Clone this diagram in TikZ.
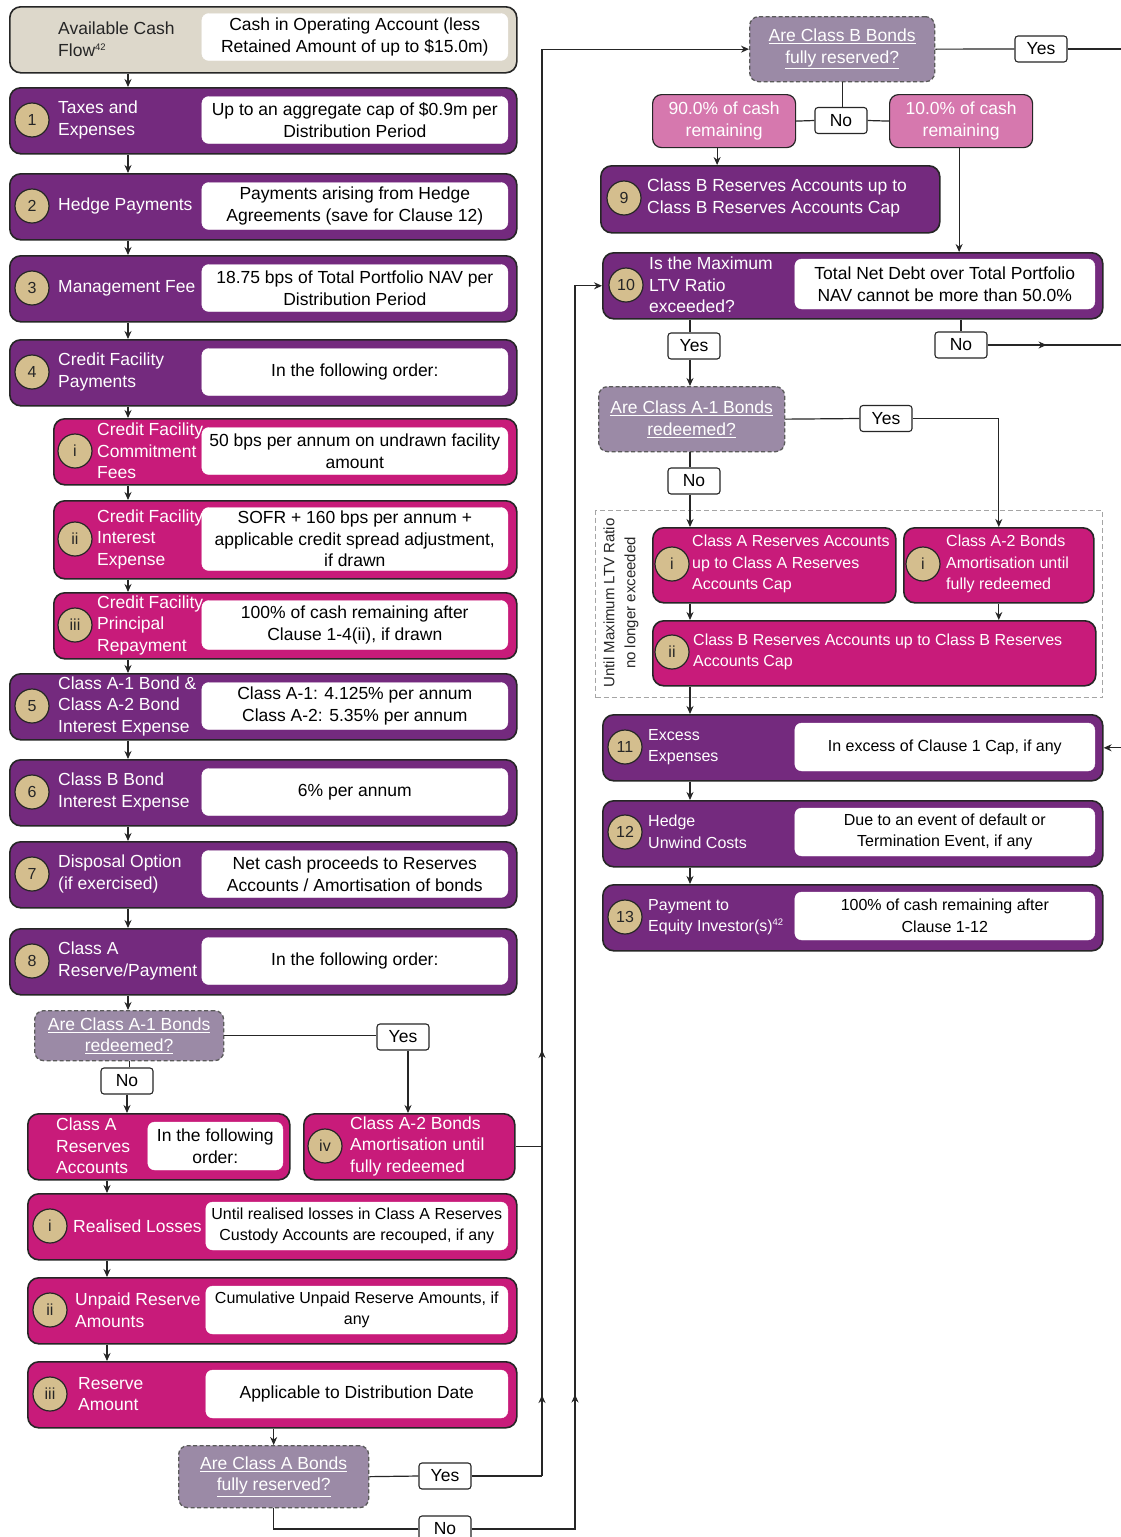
\documentclass[tikz,border=0pt]{standalone}
\usepackage{fontspec}
\setmainfont{Liberation Sans}
\usetikzlibrary{arrows.meta,decorations.markings}
\definecolor{cpur}{RGB}{116,42,126}
\definecolor{cmag}{RGB}{200,27,122}
\definecolor{cbei}{RGB}{221,216,203}
\definecolor{ctan}{RGB}{212,190,142}
\definecolor{cdec}{RGB}{155,138,166}
\definecolor{cpink}{RGB}{214,120,174}
\definecolor{cdark}{RGB}{38,38,38}
\definecolor{cgry}{RGB}{90,90,90}
\definecolor{cdash}{RGB}{165,165,165}
\newcommand\myfA{\fontsize{17.5pt}{21.5pt}\selectfont}
\newcommand\myfB{\fontsize{16pt}{21.5pt}\selectfont}
\newcommand\myfC{\fontsize{15pt}{21pt}\selectfont}
\newcommand\mysup[1]{\raisebox{6pt}{\fontsize{9.5pt}{10pt}\selectfont #1}}
\begin{document}
\begin{tikzpicture}[x=1pt,y=-1pt,
  base/.style={draw=cdark,line width=1.6pt,rounded corners=11pt,inner sep=0pt,anchor=north west},
  pbox/.style={base,fill=cpur},
  mbox/.style={base,fill=cmag},
  bbox/.style={base,fill=cbei},
  pkbox/.style={base,fill=cpink,line width=1.2pt,rounded corners=9pt,text=white,align=center,font=\myfA},
  wbox/.style={fill=white,draw=white,rounded corners=7pt,inner sep=0pt,align=center,text=black,anchor=east,font=\myfA},
  num/.style={circle,fill=ctan,draw=cdark,line width=1.2pt,minimum size=34pt,inner sep=0pt,text=cdark,font=\myfB},
  ttl/.style={anchor=west,align=left,text=white,inner sep=0pt,font=\myfA},
  dec/.style={draw=cgry,dash pattern=on 4pt off 2.5pt,line width=1.3pt,fill=cdec,rounded corners=9pt,text=white,align=center,anchor=north west,inner sep=0pt,font=\myfA},
  yn/.style={draw=cdark,fill=white,line width=1.1pt,rounded corners=3pt,minimum width=52pt,minimum height=26pt,inner sep=0pt,font=\myfA,text=black},
  ln/.style={line width=1.2pt,draw=cdark},
  arr/.style={ln,-{Stealth[length=8pt,width=7pt]}},
  marr/.style={postaction={decorate,decoration={markings,mark=at position #1 with {\arrow{Stealth[length=8pt,width=7pt]}}}}},
]
\useasboundingbox[fill=white] (0,0) rectangle (1121,1537);
\coordinate (lx) at (128,0);
\coordinate (bx) at (107,0);
\coordinate (vx) at (542,0);
\coordinate (vx2) at (575,0);
\coordinate (rx) at (690,0);
\coordinate (eR) at (1121,0);

% ===== left column =====
\node[bbox,minimum width=507,minimum height=66] (b0) at (9,6) {};
\node[wbox,minimum width=306,minimum height=47] (b0w) at (508,37) {Cash in Operating Account (less\\Retained Amount of up to \$15.0m)};
\node[ttl,text=cdark] (b0t) at (58,39) {Available Cash\\Flow\mysup{42}};

\node[pbox,minimum width=507,minimum height=66] (b1) at (9,87) {};
\node[wbox,minimum width=306,minimum height=47] (b1w) at (508,120) {Up to an aggregate cap of \$0.9m per\\Distribution Period};
\node[num] (b1n) at (32,120) {1};
\node[ttl] (b1t) at (58,120) {Taxes and\\Expenses};

\node[pbox,minimum width=507,minimum height=66] (b2) at (9,173) {};
\node[wbox,minimum width=306,minimum height=47] (b2w) at (508,206) {Payments arising from Hedge\\Agreements (save for Clause 12)};
\node[num] (b2n) at (32,206) {2};
\node[ttl] (b2t) at (58,206) {Hedge Payments};

\node[pbox,minimum width=507,minimum height=66] (b3) at (9,255) {};
\node[wbox,minimum width=306,minimum height=47] (b3w) at (508,288) {18.75 bps of Total Portfolio NAV per\\Distribution Period};
\node[num] (b3n) at (32,288) {3};
\node[ttl] (b3t) at (58,288) {Management Fee};

\node[pbox,minimum width=507,minimum height=66] (b4) at (9,339) {};
\node[wbox,minimum width=306,minimum height=47] (b4w) at (508,372) {In the following order:};
\node[num] (b4n) at (32,372) {4};
\node[ttl] (b4t) at (58,372) {Credit Facility\\Payments};

\node[mbox,minimum width=463,minimum height=66] (bi) at (53,418) {};
\node[wbox,minimum width=306,minimum height=47] (biw) at (508,451) {50 bps per annum on undrawn facility\\amount};
\node[num] (bin) at (75,451) {i};
\node[ttl] (bit) at (97,451) {Credit Facility\\Commitment\\Fees};

\node[mbox,minimum width=463,minimum height=78] (bii) at (53,500) {};
\node[wbox,minimum width=306,minimum height=63] (biiw) at (508,539) {SOFR + 160 bps per annum +\\applicable credit spread adjustment,\\if drawn};
\node[num] (biin) at (75,539) {ii};
\node[ttl] (biit) at (97,539) {Credit Facility\\Interest\\Expense};

\node[mbox,minimum width=463,minimum height=66] (biii) at (53,592) {};
\node[wbox,minimum width=306,minimum height=49] (biiiw) at (508,625) {100\% of cash remaining after\\Clause 1-4(ii), if drawn};
\node[num] (biiin) at (75,625) {iii};
\node[ttl] (biiit) at (97,625) {Credit Facility\\Principal\\Repayment};

\node[pbox,minimum width=507,minimum height=66] (b5) at (9,673) {};
\node[wbox,minimum width=306,minimum height=47] (b5w) at (508,706) {Class A-1: 4.125\% per annum\\Class A-2: 5.35\% per annum};
\node[num] (b5n) at (32,706) {5};
\node[ttl] (b5t) at (58,706) {Class A-1 Bond \&\\Class A-2 Bond\\Interest Expense};

\node[pbox,minimum width=507,minimum height=66] (b6) at (9,759) {};
\node[wbox,minimum width=306,minimum height=47] (b6w) at (508,792) {6\% per annum};
\node[num] (b6n) at (32,792) {6};
\node[ttl] (b6t) at (58,792) {Class B Bond\\Interest Expense};

\node[pbox,minimum width=507,minimum height=66] (b7) at (9,841) {};
\node[wbox,minimum width=306,minimum height=47] (b7w) at (508,874) {Net cash proceeds to Reserves\\Accounts / Amortisation of bonds};
\node[num] (b7n) at (32,874) {7};
\node[ttl] (b7t) at (58,874) {Disposal Option\\(if exercised)};

\node[pbox,minimum width=507,minimum height=66] (b8) at (9,928) {};
\node[wbox,minimum width=306,minimum height=47] (b8w) at (508,961) {In the following order:};
\node[num] (b8n) at (32,961) {8};
\node[ttl] (b8t) at (58,961) {Class A\\Reserve/Payment};

\foreach \a/\b in {b0/b1,b1/b2,b2/b3,b3/b4,b4/bi,bi/bii,bii/biii,biii/b5,b5/b6,b6/b7,b7/b8}
  \draw[arr] (lx |- \a.south) -- (lx |- \b.north);

% ===== bottom left =====
\node[dec,minimum width=189,minimum height=50] (dA1) at (34,1010) {\underline{Are Class A-1 Bonds}\\\underline{redeemed?}};
\node[yn] (nA1) at (127,1081) {No};
\node[yn] (yA1) at (403,1037) {Yes};

\node[mbox,minimum width=262,minimum height=66] (bAr) at (27,1113) {};
\node[wbox,minimum width=135,minimum height=48] (bArw) at (283,1146) {In the following\\order:};
\node[ttl] (bArt) at (56,1146) {Class A\\Reserves\\Accounts};

\node[mbox,minimum width=211,minimum height=66] (bA2) at (303,1113) {};
\node[num] (bA2n) at (325,1146) {iv};
\node[ttl] (bA2t) at (350,1146) {Class A-2 Bonds\\Amortisation until\\fully redeemed};

\node[mbox,minimum width=489,minimum height=66] (bRL) at (27,1193) {};
\node[wbox,minimum width=302,minimum height=48,font=\myfB] (bRLw) at (508,1226) {Until realised losses in Class A Reserves\\Custody Accounts are recouped, if any};
\node[num] (bRLn) at (50,1226) {i};
\node[ttl] (bRLt) at (73,1226) {Realised Losses};

\node[mbox,minimum width=489,minimum height=66] (bUR) at (27,1277) {};
\node[wbox,minimum width=302,minimum height=48,font=\myfB] (bURw) at (508,1310) {Cumulative Unpaid Reserve Amounts, if\\any};
\node[num] (bURn) at (50,1310) {ii};
\node[ttl] (bURt) at (75,1310) {Unpaid Reserve\\Amounts};

\node[mbox,minimum width=489,minimum height=66] (bRA) at (27,1361) {};
\node[wbox,minimum width=302,minimum height=48] (bRAw) at (508,1394) {Applicable to Distribution Date};
\node[num] (bRAn) at (50,1394) {iii};
\node[ttl] (bRAt) at (78,1394) {Reserve\\Amount};

\node[dec,minimum width=190,minimum height=62] (dAR) at (178,1445) {\underline{Are Class A Bonds}\\\underline{fully reserved?}};
\node[yn] (yAR) at (445,1476) {Yes};
\node[yn] (nAR) at (445,1529) {No};

\draw[arr] (lx |- b8.south) -- (lx |- dA1.north);
\draw[ln] (dA1.south) -- (dA1.south |- nA1.north);
\draw[arr] (nA1.south) -- (nA1.south |- bAr.north);
\draw[ln] (dA1.east) -- (dA1.east -| yA1.west);
\draw[arr] ([xshift=5pt]yA1.south) -- ([xshift=5pt]yA1.south |- bA2.north);
\draw[arr] (bx |- bAr.south) -- (bx |- bRL.north);
\draw[arr] (bx |- bRL.south) -- (bx |- bUR.north);
\draw[arr] (bx |- bUR.south) -- (bx |- bRA.north);
\draw[arr] (dAR.north |- bRA.south) -- (dAR.north);
\draw[ln] (dAR.east) -- (yAR.west);
\draw[ln] (yAR.east) -- (yAR.east -| vx);
\draw[ln] (bA2.east) -- (bA2.east -| vx);
\draw[ln] (dAR.south) -- (dAR.south |- nAR.west) -- (nAR.west);

% ===== right column =====
\node[dec,minimum width=185,minimum height=65] (dB) at (749,16) {\underline{Are Class B Bonds}\\\underline{fully reserved?}};
\node[yn] (yB) at (1041,49) {Yes};
\node[pkbox,minimum width=143,minimum height=53] (p90) at (652,94) {90.0\% of cash\\remaining};
\node[pkbox,minimum width=143,minimum height=53] (p10) at (889,94) {10.0\% of cash\\remaining};
\node[yn] (nB) at (841,120.5) {No};

\node[pbox,minimum width=339,minimum height=67] (b9) at (600,165) {};
\node[num] (b9n) at (624,198) {9};
\node[ttl] (b9t) at (647,198) {Class B Reserves Accounts up to\\Class B Reserves Accounts Cap};

\node[pbox,minimum width=500,minimum height=66] (b10) at (602,252) {};
\node[wbox,minimum width=300,minimum height=50] (b10w) at (1095,284) {Total Net Debt over Total Portfolio\\NAV cannot be more than 50.0\%};
\node[num] (b10n) at (626,285) {10};
\node[ttl] (b10t) at (649,285) {Is the Maximum\\LTV Ratio\\exceeded?};

\node[yn] (yL) at (694,346) {Yes};
\node[yn] (nL) at (961,345) {No};

\node[dec,minimum width=186,minimum height=65] (dA1r) at (598,386) {\underline{Are Class A-1 Bonds}\\\underline{redeemed?}};
\node[yn] (yR) at (886,418.5) {Yes};
\node[yn] (nR) at (694,481) {No};

\node[draw=cdash,dash pattern=on 5pt off 3pt,line width=1.2pt,minimum width=507,minimum height=187,anchor=north west,inner sep=0pt] (reg) at (595,510) {};
\node[rotate=90,align=center,font=\myfC,text=cdark,inner sep=0pt] (ltv) at (621,603) {Until Maximum LTV Ratio\\no longer exceeded};

\node[mbox,minimum width=243,minimum height=75] (bAres) at (652,527) {};
\node[num] (bAresn) at (672,564) {i};
\node[ttl,font=\myfB] (bArest) at (692,564) {Class A Reserves Accounts\\up to Class A Reserves\\Accounts Cap};

\node[mbox,minimum width=190,minimum height=75] (bA2r) at (903,527) {};
\node[num] (bA2rn) at (923,564) {i};
\node[ttl,font=\myfB] (bA2rt) at (946,564) {Class A-2 Bonds\\Amortisation until\\fully redeemed};

\node[mbox,minimum width=443,minimum height=65] (bBres) at (652,620) {};
\node[num] (bBresn) at (672,652) {ii};
\node[ttl,font=\myfB] (bBrest) at (693,652) {Class B Reserves Accounts up to Class B Reserves\\Accounts Cap};

\node[pbox,minimum width=500,minimum height=66] (b11) at (602,714) {};
\node[wbox,minimum width=300,minimum height=48,font=\myfB] (b11w) at (1095,747) {In excess of Clause 1 Cap, if any};
\node[num] (b11n) at (625,747) {11};
\node[ttl,font=\myfB] (b11t) at (648,747) {Excess\\Expenses};

\node[pbox,minimum width=500,minimum height=66] (b12) at (602,800) {};
\node[wbox,minimum width=300,minimum height=48,font=\myfB] (b12w) at (1095,832) {Due to an event of default or\\Termination Event, if any};
\node[num] (b12n) at (625,832) {12};
\node[ttl,font=\myfB] (b12t) at (648,832) {Hedge\\Unwind Costs};

\node[pbox,minimum width=500,minimum height=66] (b13) at (602,884) {};
\node[wbox,minimum width=300,minimum height=48,font=\myfB] (b13w) at (1095,916) {100\% of cash remaining after\\Clause 1-12};
\node[num] (b13n) at (625,917) {13};
\node[ttl,font=\myfB] (b13t) at (648,917) {Payment to\\Equity Investor(s)\mysup{42}};

% right connectors
\draw[ln] (dB.east) -- (yB.west);
\draw[ln] (yB.east) -- (yB.east -| eR);
\draw[ln] (dB.south) -- (dB.south |- nB.north);
\draw[ln] (nB.west) -- (p90.east);
\draw[ln] (nB.east) -- (p10.west);
\draw[arr] ([xshift=-7pt]p90.south) -- ([xshift=-7pt]p90.south |- b9.north);
\draw[arr] ([xshift=-2pt]p10.south) -- ([xshift=-2pt]p10.south |- b10.north);
\draw[ln] (rx |- b10.south) -- (rx |- yL.north);
\draw[arr] (rx |- yL.south) -- (rx |- dA1r.north);
\draw[ln] (nL.north |- b10.south) -- (nL.north);
\draw[ln,marr=59pt] (nL.east) -- (nL.east -| eR);
\draw[ln] (dA1r.east) -- (yR.west);
\draw[arr] (yR.east) -- (yR.east -| bA2r.north) -- (bA2r.north);
\draw[ln] (rx |- dA1r.south) -- (rx |- nR.north);
\draw[arr] (rx |- nR.south) -- (rx |- bAres.north);
\draw[arr] (rx |- bAres.south) -- (rx |- bBres.north);
\draw[arr] (bA2r.south) -- (bA2r.south |- bBres.north);
\draw[arr] (rx |- bBres.south) -- (rx |- b11.north);
\draw[arr] (rx |- b11.south) -- (rx |- b12.north);
\draw[arr] (rx |- b12.south) -- (rx |- b13.north);
\draw[arr] (b11.east -| eR) -- (b11.east);

% long return lines
\draw[arr,marr=81pt,marr=426pt] (yAR.east -| vx) -- (vx |- dB.west) -- (dB.west);
\draw[arr,marr=238pt] (nAR.east) -- (nAR.east -| vx2) -- (vx2 |- b10.west) -- (b10.west);
\end{tikzpicture}
\end{document}
